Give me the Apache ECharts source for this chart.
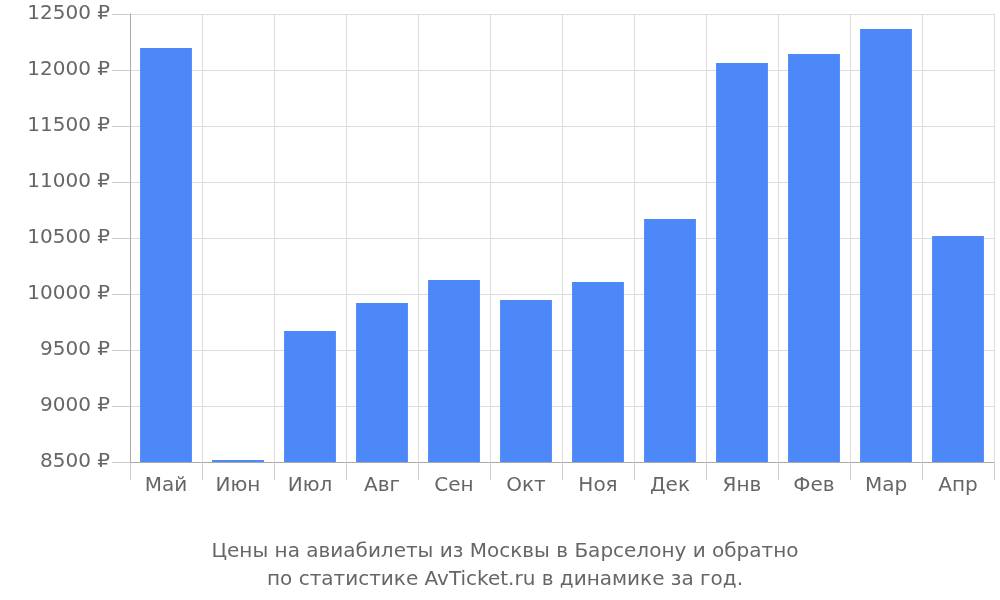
<!DOCTYPE html><html><head><meta charset="utf-8"><script src="https://cdn.jsdelivr.net/npm/echarts@6/dist/echarts.min.js"></script></head><body style="margin:0"><div id="c" style="width:1000px;height:600px"></div><script>
const categories=['Май','Июн','Июл','Авг','Сен','Окт','Ноя','Дек','Янв','Фев','Мар','Апр'];
const prices=[12196,8518,9670,9920,10125,9946,10107,10670,12063,12143,12366,10518];
const titleLines=['Цены на авиабилеты из Москвы в Барселону и обратно','по статистике AvTicket.ru в динамике за год.'];
const ch=echarts.init(document.getElementById('c'));
const F='DejaVu Sans';
ch.setOption({
 title:{text:titleLines.join('\n'),left:500,textAlign:'center',top:533,textStyle:{fontFamily:F,fontSize:20,fontWeight:'normal',color:'#666',lineHeight:28}},
 grid:{left:130,right:6,top:14,bottom:138},
 xAxis:{type:'category',data:categories,boundaryGap:true,
  axisLine:{lineStyle:{color:'#aaa'}},axisTick:{show:true,length:18,lineStyle:{color:'#ccc'}},
  splitLine:{show:true,lineStyle:{color:'#ddd'}},
  axisLabel:{fontFamily:F,fontSize:20,color:'#666',margin:14}},
 yAxis:{type:'value',min:8500,max:12500,interval:500,
  axisLine:{show:true,lineStyle:{color:'#aaa'}},axisTick:{show:true,length:18,lineStyle:{color:'#ccc'}},
  splitLine:{lineStyle:{color:'#ddd'}},
  axisLabel:{fontFamily:F,fontSize:20,color:'#666',margin:20,formatter:v=>v+' ₽'}},
 series:[{type:'bar',data:prices,barCategoryGap:'28%',itemStyle:{color:'#4d88f9'}}]
});
</script></body></html>
